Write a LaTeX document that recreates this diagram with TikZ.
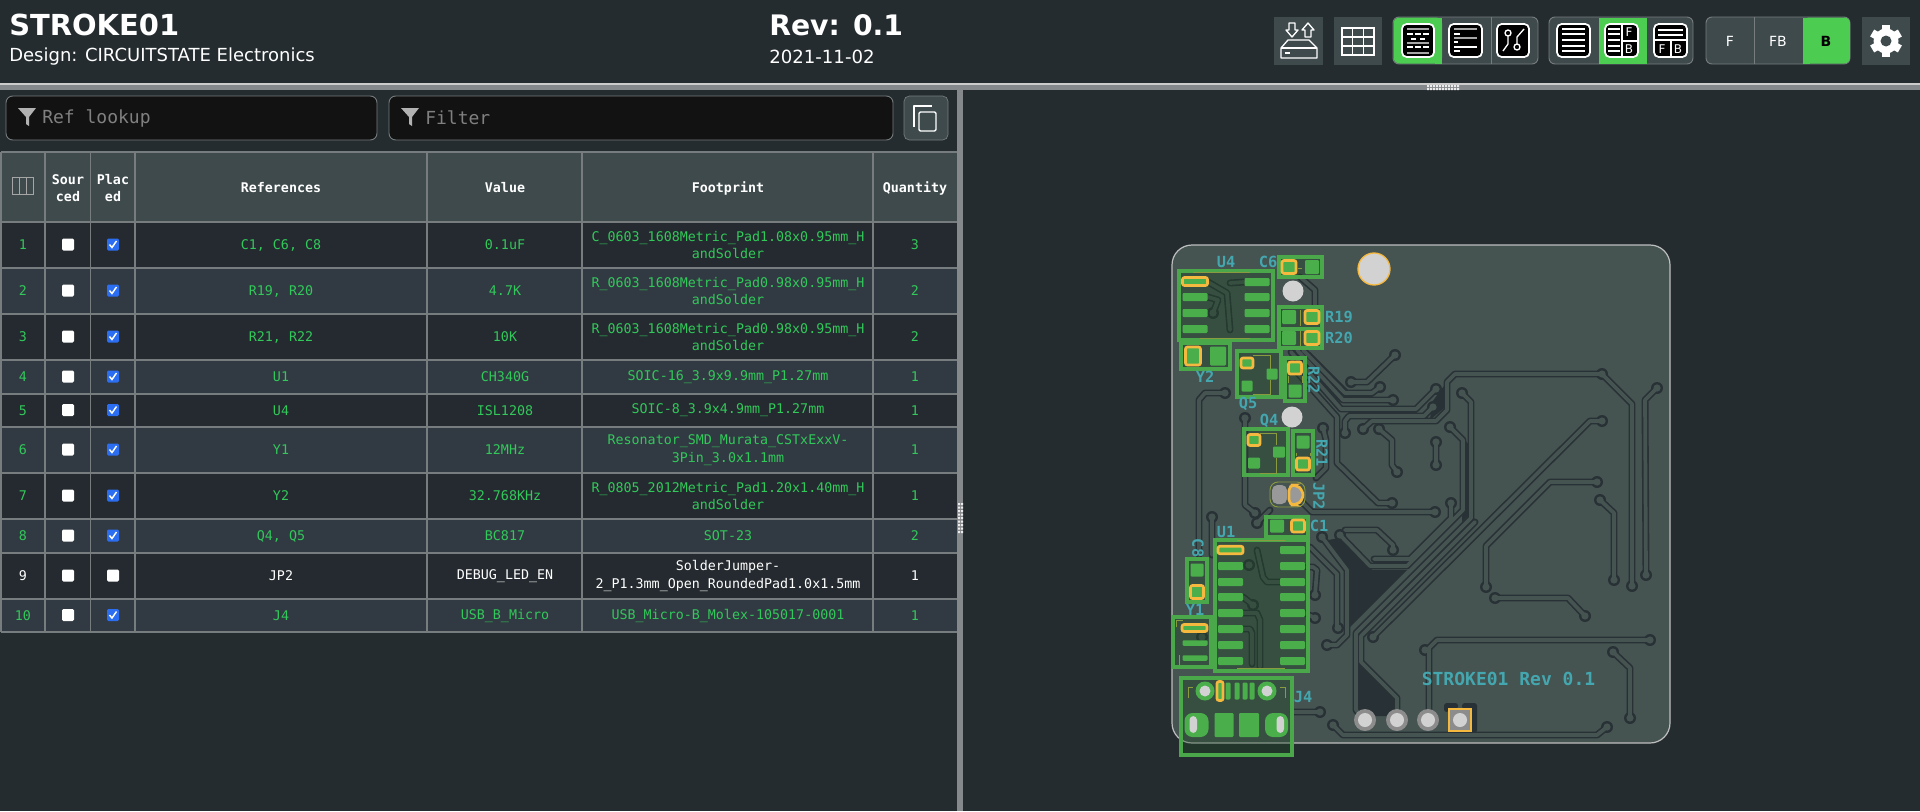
\documentclass[tikz,border=0pt]{standalone}
\usepackage{fontspec}
\setmainfont{DejaVu Sans}
\newfontfamily\monofont{DejaVu Sans Mono}
\usetikzlibrary{calc}
\definecolor{pagebg}{HTML}{242C30}
\definecolor{headbg}{HTML}{3E4A4C}
\definecolor{rowa}{HTML}{242A2F}
\definecolor{rowb}{HTML}{313A42}
\definecolor{gridcol}{HTML}{777C7E}
\definecolor{okgreen}{HTML}{32C85A}
\definecolor{btngreen}{HTML}{4DCC52}
\definecolor{tickblue}{HTML}{2B6EF2}
\definecolor{inputbg}{HTML}{121212}
\definecolor{boardcol}{HTML}{455351}
\definecolor{gapcol}{HTML}{283135}
\definecolor{padgreen}{HTML}{4AAE4A}
\definecolor{boxgreen}{HTML}{4AA84A}
\definecolor{boxshade}{HTML}{1F4A24}
\definecolor{pinorange}{HTML}{F6B93F}
\definecolor{silkteal}{HTML}{44A6AE}
\definecolor{silkline}{HTML}{8A9A3E}
\tikzset{
	cell/.style={font=\monofont\fontsize{10}{13}\selectfont, align=center, inner sep=0pt},
	headcell/.style={font=\monofont\bfseries\fontsize{10}{13}\selectfont, align=center, inner sep=0pt, text=white},
	pcblabel/.style={font=\monofont\bfseries\fontsize{11.5}{12}\selectfont, text=silkteal, inner sep=0pt},
	btnbox/.style={fill=headbg, draw=gridcol, line width=0.7pt, rounded corners=4.5pt},
	iconbox/.style={fill=black, draw=white, line width=1.3pt, rounded corners=3.5pt},
	iconline/.style={draw=white, line width=1pt},
	icongray/.style={draw=gray!70, line width=1.2pt},
	iconchar/.style={font=\fontsize{9}{10}\selectfont, text=white, inner sep=0pt},
	fpbox/.style={draw=boxgreen, line width=2.4pt, fill=boxshade, fill opacity=0.35},
	silk/.style={draw=silkline, line width=0.7pt},
	pin/.style={draw=pinorange, line width=2pt, rounded corners=1.5pt}
}
\def\smd[#1](#2,#3)(#4:#5){\fill[padgreen,rounded corners=0.8pt,#1] ({#2-#4/2},{#3-#5/2}) rectangle ({#2+#4/2},{#3+#5/2});}
\def\copper#1#2#3{
	\draw[#1, line width=#2, line join=round, line cap=round]
		(1602,374) -- (1455,374) -- (1447,382) -- (1447,410) -- (1436,421) -- (1372,421) -- (1363,429)
		(1602,374) -- (1632,404) -- (1632,586)
		(1462,393) -- (1471,402) -- (1471,518) -- (1356,633) -- (1356,710) -- (1365,720)
		(1475,522) -- (1361,636) -- (1361,662) -- (1397,698) -- (1397,720)
		(1450,427) -- (1463,440) -- (1463,510) -- (1407,566) -- (1370,566) -- (1340,535)
		(1451,503) -- (1451,518) -- (1410,559) -- (1374,559)
		(1602,421) -- (1590,421) -- (1373,637)
		(1597,482) -- (1550,482) -- (1486,546) -- (1486,587)
		(1495,598) -- (1568,598) -- (1585,616)
		(1600,500) -- (1614,513) -- (1614,580)
		(1657,388) -- (1645,400) -- (1646,575)
		(1650,640) -- (1437,640) -- (1429,648) -- (1429,720)
		(1613,652) -- (1630,668) -- (1630,718)
		(1333,725) -- (1343,735) -- (1597,735) -- (1607,727)
		(1320,712) -- (1293,712)
		(1395,355) -- (1367,382) -- (1351,382)
		(1303,350) -- (1345,393) -- (1372,393) -- (1380,387)
		(1297,350) -- (1343,400) -- (1393,400)
		(1291,352) -- (1341,409) -- (1416,409) -- (1436,389)
		(1286,360) -- (1337,417) -- (1337,463) -- (1378,503) -- (1392,503)
		(1345,433) -- (1345,421) -- (1349,416) -- (1424,416) -- (1433,407)
		(1379,429) -- (1392,440) -- (1392,465) -- (1397,472)
		(1436,442) -- (1436,465)
		(1435,512) -- (1312,512) -- (1295,495)
		(1345,530) -- (1377,530) -- (1393,545) -- (1393,550)
		(1310,547) -- (1337,574) -- (1337,628)
		(1322,537) -- (1347,570) -- (1347,635) -- (1337,645) -- (1327,645)
		(1323,428) -- (1326,440) -- (1326,468) -- (1316,478)
		(1225,393) -- (1205,393) -- (1199,400) -- (1199,555)
		(1245,418) -- (1245,505) -- (1255,513)
		(1212,517) -- (1212,555)
		(1257,523) -- (1270,510)
		(1300,277) -- (1315,290) -- (1315,307)
		(1208,282) -- (1227,293) -- (1230,330)
		(1230,283) -- (1244,282)
		(1208,297) -- (1218,300) -- (1213,313)
		(1257,550) -- (1263,577) -- (1267,582) -- (1280,582)
		(1243,597) -- (1253,605)
		(1243,613) -- (1257,613) -- (1260,620) -- (1260,667)
		(1243,629) -- (1250,629) -- (1252,633) -- (1252,664)
		(1307,567) -- (1313,567) -- (1317,570) -- (1315,595)
		(1305,613) -- (1315,618);
	\foreach \vx/\vy in {1602/374,1632/586,1462/393,1450/427,1340/535,1451/503,1602/421,1373/637,1597/482,1486/587,
			1495/598,1585/616,1600/500,1614/580,1657/388,1646/575,1650/640,1425/650,1613/652,1630/718,1333/725,1607/727,
			1320/712,1395/355,1351/382,1380/387,1393/400,1436/389,1392/503,1345/433,1433/407,1363/429,1379/429,1397/472,
			1436/442,1436/465,1435/512,1393/550,1338/628,1322/537,1327/645,1323/428,1225/393,1245/418,1255/513,1212/517,
			1257/523,1213/313,1249/565,1253/605,1315/595,1315/618,1202/637}
		\fill[#1] (\vx,\vy) circle (#3);
}

\begin{document}
\begin{tikzpicture}[x=0.75pt,y=-0.75pt]
	%%%%% PAGE %%%%%
	\useasboundingbox (0,0) rectangle (1920,811);
	\fill[pagebg] (0,0) rectangle (1920,811);

	\node[anchor=west, inner sep=0pt, text=white, font=\bfseries\fontsize{21.7}{24}\selectfont] (title) at (9,25) {STROKE01};
	\node[anchor=west, inner sep=0pt, text=white, font=\fontsize{13.5}{15}\selectfont] (company) at (9,57) {Design: CIRCUITSTATE Electronics};
	\node[anchor=west, inner sep=0pt, text=white, font=\bfseries\fontsize{21.2}{24}\selectfont] (revision) at (769,25) {Rev: 0.1};
	\node[anchor=west, inner sep=0pt, text=white, font=\fontsize{13.6}{15}\selectfont] (date) at (769,57) {2021-11-02};

	%%%%% TOOLBAR %%%%%
	\fill[headbg] (1274,17) rectangle (1323,65);
	\draw[iconline, line join=round] (1289,23) -- (1295,23) -- (1295,30) -- (1298,30) -- (1292,37) -- (1286,30) -- (1289,30) -- cycle;
	\draw[iconline, line join=round] (1305,37) -- (1311,37) -- (1311,30) -- (1314,30) -- (1308,23) -- (1302,30) -- (1305,30) -- cycle;
	\draw[iconline, line join=round] (1288,40) -- (1309,40) -- (1317,48) -- (1317,58) -- (1281,58) -- (1281,48) -- cycle;
	\draw[iconline] (1281,48) -- (1317,48) (1285,53) -- (1290,53);
	\fill[headbg] (1334,17) rectangle (1382,65);
	\draw[iconline] (1342,28) rectangle (1374,55);
	\foreach \gx in {1352.7,1363.3} \draw[iconline] (\gx,28) -- (\gx,55);
	\foreach \gy in {37,46} \draw[iconline] (1342,\gy) -- (1374,\gy);

	\draw[btnbox] (1393,17) rectangle (1538,64);
	\fill[btngreen, rounded corners=4.5pt] (1393.5,17.5) -- (1442,17.5) -- (1442,63.5) -- (1393.5,63.5) -- cycle;
	\fill[btngreen] (1435,17.5) rectangle (1442,63.5);
	\draw[gridcol, line width=0.7pt] (1491,17) -- (1491,64);
	\draw[iconbox] (1402,24) rectangle (1434,57);
	\draw[icongray] (1407,29) -- (1429,29) (1407,43) -- (1429,43) (1407,53) -- (1429,53);
	\draw[iconline] (1407,34) -- (1413,34) (1415,34) -- (1421,34) (1423,34) -- (1429,34) (1411,39) -- (1416,39) (1420,39) -- (1425,39) (1407,47) -- (1413,47) (1415,47) -- (1421,47) (1423,47) -- (1429,47);
	\draw[iconbox] (1449,24) rectangle (1482,57);
	\draw[icongray] (1454,29) -- (1477,29) (1454,38) -- (1477,38);
	\draw[iconline] (1454,34) -- (1460,34) (1454,42) -- (1458,42) (1454,47) -- (1477,47) (1454,51) -- (1460,51);
	\draw[iconbox] (1497,24) rectangle (1529,57);
	\draw[iconline] (1508,33) circle (3) (1508,36) -- (1508,44) -- (1503,51) (1517,47) circle (3) (1517,44) -- (1517,37) -- (1524,29);

	\draw[btnbox] (1549,17) rectangle (1693,64);
	\fill[btngreen] (1599,17.5) rectangle (1647,63.5);
	\draw[iconbox] (1557,24) rectangle (1590,57);
	\foreach \ly in {29,34,40,46,51} \draw[iconline] (1562,\ly) -- (1585,\ly);
	\draw[iconbox] (1605,24) rectangle (1638,57);
	\foreach \ly in {29,34,40,46,51} \draw[iconline] (1608,\ly) -- (1620,\ly);
	\draw[iconline] (1622,24) -- (1622,57) (1622,41) -- (1638,41);
	\node[iconchar] (iconbF) at (1629,32) {F};
	\node[iconchar] (iconbB) at (1629,49) {B};
	\draw[iconbox] (1654,24) rectangle (1687,57);
	\draw[iconline] (1658,30) -- (1683,30) (1658,35) -- (1683,35) (1654,40) -- (1687,40) (1671,40) -- (1671,57);
	\node[iconchar] (iconcF) at (1662,49) {F};
	\node[iconchar] (iconcB) at (1678,49) {B};

	\draw[btnbox] (1706,17) rectangle (1850,64);
	\draw[gridcol, line width=0.7pt] (1754,17) -- (1754,64);
	\fill[btngreen, rounded corners=4.5pt] (1803,17.5) -- (1850,17.5) -- (1850,63.5) -- (1803,63.5) -- cycle;
	\fill[btngreen] (1803,17.5) rectangle (1810,63.5);
	\node[text=white, inner sep=0pt, font=\fontsize{10.5}{12}\selectfont] (layerF) at (1730,41) {F};
	\node[text=white, inner sep=0pt, font=\fontsize{10.5}{12}\selectfont] (layerFB) at (1778,41) {FB};
	\node[text=black, inner sep=0pt, font=\bfseries\fontsize{10.5}{12}\selectfont] (layerB) at (1826,41) {B};

	\fill[headbg] (1862,17) rectangle (1910,65);
	\foreach \ga in {0,60,...,300}
		\fill[white, rotate around={\ga:(1886,41)}] (1882,25) rectangle (1890,33);
	\fill[white] (1886,41) circle (12.5);
	\fill[headbg] (1886,41) circle (5.5);

	%%%%% SPLITTERS %%%%%
	\fill[gridcol!90] (0,85) rectangle (1920,90);
	\fill[gray!40] (0,83) rectangle (1920,85);
	\foreach \dx in {1427,1430,...,1457} \fill[white!85!gray] (\dx,85) rectangle ++(2,2) (\dx,88) rectangle ++(2,2);
	\fill[gridcol!90] (957,90) rectangle (963,811);
	\foreach \dy in {503,506.5,...,534} \fill[white!85!gray] (958,\dy) rectangle ++(2,2) (961,\dy) rectangle ++(2,2);

	%%%%% FILTER BOXES %%%%%
	\draw[fill=inputbg, draw=gridcol, line width=0.7pt, rounded corners=5pt] (6,96) rectangle (377,140);
	\draw[fill=inputbg, draw=gridcol, line width=0.7pt, rounded corners=5pt] (389,96) rectangle (893,140);
	\fill[gray!60] (18,108) -- (36,108) -- (29,117) -- (29,126) -- (26,124) -- (26,117) -- cycle;
	\fill[gray!60] (401,108) -- (419,108) -- (412,117) -- (412,126) -- (409,124) -- (409,117) -- cycle;
	\node[anchor=west, inner sep=0pt, text=gray, font=\monofont\fontsize{13.5}{15}\selectfont] (reflookup) at (42,118) {Ref lookup};
	\node[anchor=west, inner sep=0pt, text=gray, font=\monofont\fontsize{13.5}{15}\selectfont] (filter) at (425,118) {Filter};
	\draw[fill=headbg, draw=gridcol, line width=0.5pt, rounded corners=4pt] (904,96) rectangle (948,140);
	\draw[white, line width=1pt, line join=round] (914,127) -- (914,106) -- (932,106);
	\draw[white, line width=1pt, rounded corners=1pt] (919,112) rectangle (936,131);

	%%%%% TABLE %%%%%
	\fill[headbg] (1,152) rectangle (957,222);
	\foreach \cx in {12,19.3,26.6} \draw[gray!70, line width=0.7pt] (\cx,177) rectangle ++(7.3,17);
	\node[headcell] (headsrc) at (68,188) {Sour\\ced};
	\node[headcell] (headplc) at (113,188) {Plac\\ed};
	\node[headcell] (headref) at (281,188) {References};
	\node[headcell] (headval) at (505,188) {Value};
	\node[headcell] (headfoot) at (728,188) {Footprint};
	\node[headcell] (headqty) at (915,188) {Quantity};

	\foreach \rowid/\ya/\yb/\refs/\val/\foot/\qty/\txt/\bg/\tick in {
		1/222/268/{C1, C6, C8}/0.1uF/{C\_0603\_1608Metric\_Pad1.08x0.95mm\_H\\andSolder}/3/okgreen/rowa/1,
		2/268/314/{R19, R20}/4.7K/{R\_0603\_1608Metric\_Pad0.98x0.95mm\_H\\andSolder}/2/okgreen/rowb/1,
		3/314/360/{R21, R22}/10K/{R\_0603\_1608Metric\_Pad0.98x0.95mm\_H\\andSolder}/2/okgreen/rowa/1,
		4/360/394/U1/CH340G/{SOIC-16\_3.9x9.9mm\_P1.27mm}/1/okgreen/rowb/1,
		5/394/427/U4/ISL1208/{SOIC-8\_3.9x4.9mm\_P1.27mm}/1/okgreen/rowa/1,
		6/427/473/Y1/12MHz/{Resonator\_SMD\_Murata\_CSTxExxV-\\3Pin\_3.0x1.1mm}/1/okgreen/rowb/1,
		7/473/519/Y2/32.768KHz/{R\_0805\_2012Metric\_Pad1.20x1.40mm\_H\\andSolder}/1/okgreen/rowa/1,
		8/519/553/{Q4, Q5}/BC817/{SOT-23}/2/okgreen/rowb/1,
		9/553/599/JP2/{DEBUG\_LED\_EN}/{SolderJumper-\\2\_P1.3mm\_Open\_RoundedPad1.0x1.5mm}/1/white/rowa/0,
		10/599/632/J4/{USB\_B\_Micro}/{USB\_Micro-B\_Molex-105017-0001}/1/okgreen/rowb/1}
	{
		\pgfmathsetmacro{\ym}{(\ya+\yb)/2}
		\fill[\bg] (1,\ya) rectangle (957,\yb);
		\node[cell, text=\txt] (num\rowid) at (23,\ym) {\rowid};
		\node[cell, text=\txt] (refs\rowid) at (281,\ym) {\refs};
		\node[cell, text=\txt] (val\rowid) at (505,\ym) {\val};
		\node[cell, text=\txt] (foot\rowid) at (728,\ym) {\foot};
		\node[cell, text=\txt] (qty\rowid) at (915,\ym) {\qty};
		\fill[white, rounded corners=1pt] (62,\ym-6.5) rectangle (74,\ym+5.5);
		\ifnum\tick=1
			\fill[tickblue, rounded corners=1pt] (107,\ym-6.5) rectangle (119,\ym+5.5);
			\draw[white, line width=1.1pt] (109.5,\ym-0.5) -- (112,\ym+2.5) -- (116.5,\ym-4);
		\else
			\fill[white, rounded corners=1pt] (107,\ym-6.5) rectangle (119,\ym+5.5);
		\fi
	}
	\foreach \gy in {152,222,268,314,360,394,427,473,519,553,599,632}
		\draw[gridcol, line width=0.8pt] (1,\gy) -- (957,\gy);
	\foreach \gx in {1,45,90.6,135,427,582,873}
		\draw[gridcol, line width=0.8pt] (\gx,152) -- (\gx,632);

	%%%%% BOARD %%%%%
	\draw[fill=boardcol, draw=gray!50, line width=0.9pt] (1172,265) arc (180:270:20) -- (1650,245) arc (270:360:20) -- (1670,723) arc (0:90:20) -- (1192,743) arc (90:180:20) -- cycle;

	\fill[gapcol] (1322,541) -- (1349,568) -- (1350,627) -- (1407,570) -- (1372,570) -- (1340,538) -- cycle;
	\fill[gapcol] (1358,658) -- (1394,696) -- (1394,716) -- (1358,716) -- cycle;
	\fill[gapcol] (1432,402) -- (1444,386) -- (1444,408) -- (1430,420) -- cycle;
	\fill[gapcol] (1465,440) -- (1469,445) -- (1469,515) -- (1462,522) -- cycle;
	\fill[gapcol, rounded corners=2pt] (1444,712) -- (1444,703) -- (1458,703) -- (1458,709) -- (1449,709) -- (1449,712) -- cycle;
	\fill[gapcol, rounded corners=2pt] (1462,703) -- (1477,703) -- (1477,733) -- (1471,733) -- (1471,709) -- (1462,709) -- cycle;
	\fill[gapcol] (1310,352) -- (1348,390) -- (1372,390) -- (1372,396) -- (1345,396) -- (1305,355) -- cycle;
	\copper{gapcol}{5.2pt}{6}
	\copper{boardcol}{2.8pt}{3.6}

	%%%%% FOOTPRINTS %%%%%
	\foreach \bx/\by/\bw/\bh in {1179/271/94/69,1279/257/43/20,1279/307/43/22,1279/329/43/19,1181/343/49/26,1237/351/44/46,
			1285/358/20/43,1244/429/44/46,1293/431/20/44,1266/517/42/20,1215/540/93/131,1187/559/20/43,1173/617/38/50,1181/678/111/77}
		\draw[fpbox] (\bx,\by) rectangle ++(\bw,\bh);

	\draw[silk] (1188,698) -- (1188,687) -- (1193,687) (1285,698) -- (1285,687) -- (1280,687);
	\draw[silk] (1193,272) -- (1250,272) (1200,338) -- (1250,338) (1237,540) -- (1285,540) (1237,668) -- (1285,668);
	\draw[silk] (1253,355) -- (1270,355) -- (1270,372) (1270,380) -- (1270,394) -- (1253,394);
	\draw[silk] (1260,433) -- (1276,433) -- (1276,445) (1276,458) -- (1276,473) -- (1260,473);
	\draw[silk] (1176,627) -- (1176,620) -- (1183,620) (1179,655) -- (1179,665);
	\draw[silk] (1298,268) -- (1302,268) (1300,310) -- (1300,326) (1300,331) -- (1300,346);
	\draw[silk] (1288,376) -- (1288,383) (1302,376) -- (1302,383) (1296,453) -- (1296,456) (1310,453) -- (1310,456);

	\foreach \py in {297,313,329} { \smd[](1195,\py)(25:8) }
	\foreach \py in {282,297,313,329} { \smd[](1257,\py)(25:8) }
	\smd[pin](1195,281.5)(25:8)
	\foreach \py in {566,582,597,613,629,645,661} { \smd[](1230.5,\py)(25:8) }
	\foreach \py in {550,566,582,597,613,629,645,661} { \smd[](1292.5,\py)(25:8) }
	\smd[pin](1230.5,550)(25:7.5)
	\smd[](1195,643)(25:5.5)
	\smd[](1195,658)(25:5.5)
	\smd[pin](1194.5,628)(25:7)

	\smd[pin](1289,267)(14:13)
	\smd[](1312,267)(14:14)
	\smd[](1289,317)(14:14)
	\smd[pin](1312,317)(14:13)
	\smd[](1289,338)(14:14)
	\smd[pin](1312,338)(14:13)
	\smd[pin](1193,356)(15:18)
	\smd[](1218,356)(16:19)
	\smd[pin](1247,363)(12:10)
	\smd[](1272,374)(11:11)
	\smd[](1247,386)(11:11)
	\smd[pin](1295,368)(13:12)
	\smd[](1295,391)(13:13)
	\smd[pin](1254,440)(12:11)
	\smd[](1279,452)(12:11)
	\smd[](1254,463)(12:11)
	\smd[](1303,442)(13:13)
	\smd[pin](1303,464)(13:12)
	\smd[](1277,526)(14:13)
	\smd[pin](1298,526)(13:12)
	\smd[](1197,570)(13:13)
	\smd[pin](1197,592)(13:13)

	%%%%% JP2 %%%%%
	\draw[silkline, line width=0.7pt, rounded corners=6pt] (1270,482) rectangle (1305,507);
	\fill[gray!80, rounded corners=4pt] (1272,485) -- (1287,485) -- (1287,504) -- (1272,504) -- cycle;
	\draw[fill=gray!80, pin, rounded corners=4pt] (1289,485) -- (1296,485) -- (1303,490) -- (1303,500) -- (1296,505) -- (1289,505) -- cycle;

	%%%%% J4 %%%%%
	\foreach \hx in {1205,1267} {
		\fill[padgreen] (\hx,691) circle (9.5);
		\fill[gray!35] (\hx,691) circle (5.5);
	}
	\foreach \fx in {1228,1237,1245,1252} { \smd[](\fx,691)(5:17) }
	\smd[pin](1220,691)(6:19)
	\smd[rounded corners=6pt](1196.5,725)(24:24)
	\smd[](1224,725)(19:24)
	\smd[](1249,725)(20:24)
	\smd[rounded corners=6pt](1276.5,725)(23:24)
	\fill[gray!35, rounded corners=3pt] (1189.5,716) rectangle (1197,733);
	\fill[gray!35, rounded corners=3pt] (1276.5,716) rectangle (1284,733);

	%%%%% HOLES %%%%%
	\fill[gray!35] (1293,291) circle (10.5);
	\fill[gray!35] (1292,417) circle (10.5);
	\draw[fill=gray!35, draw=pinorange, line width=1pt] (1374,269) circle (16);
	\foreach \hx in {1365,1397,1428} {
		\fill[gray!90] (\hx,720) circle (11);
		\fill[gray!35] (\hx,720) circle (7);
	}
	\draw[fill=gray!90, draw=pinorange, line width=1.5pt] (1449,709) rectangle (1471,731);
	\fill[gray!35] (1460,720) circle (7);

	%%%%% LABELS %%%%%
	\foreach \lname/\lx/\ly in {U4/1226/262,C6/1268/262,R19/1339/317,R20/1339/338,Y2/1205/377,Q5/1248/404,Q4/1269/421,C1/1319/526,U1/1226/532,Y1/1195/610,J4/1303/697}
		\node[pcblabel] (lbl\lname) at (\lx,\ly) {\lname};
	\foreach \lname/\lx/\ly in {R22/1314/380,R21/1322/453,JP2/1319/496,C8/1198/548}
		\node[pcblabel, rotate=-90] (lbl\lname) at (\lx,\ly) {\lname};
	\node[font=\monofont\bfseries\fontsize{13.5}{15}\selectfont, text=silkteal, inner sep=0pt] (boardname) at (1508.5,679) {STROKE01 Rev 0.1};
\end{tikzpicture}
\end{document}
